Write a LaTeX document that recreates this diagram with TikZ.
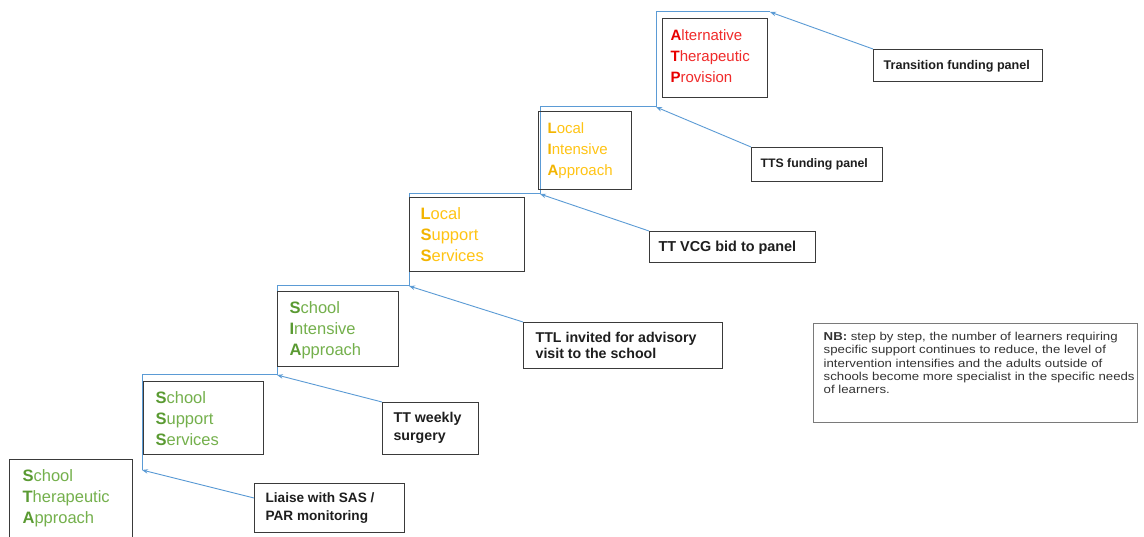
\documentclass[tikz,border=0pt]{standalone}
\usepackage{fontspec}
\setmainfont{Liberation Sans}
\newfontfamily\nbfont{Liberation Sans}[FakeStretch=1.15]
\usetikzlibrary{arrows.meta}
\definecolor{gdark}{HTML}{5A9A32}
\definecolor{glight}{HTML}{74B04C}
\definecolor{ydark}{HTML}{F2B400}
\definecolor{ylight}{HTML}{FFC414}
\definecolor{rdark}{HTML}{E80000}
\definecolor{rlight}{HTML}{F02A2A}
\definecolor{linkblue}{HTML}{5B9BD5}
\definecolor{boxline}{HTML}{3A3A3A}
\definecolor{nbline}{HTML}{7A7A7A}
\definecolor{txt}{HTML}{1E1E1E}
\definecolor{nbtxt}{HTML}{333333}
\newcommand\stx[2]{\makebox[#1][l]{\begin{tabular}[t]{@{}l@{}}#2\end{tabular}}}
\newcommand\gl[2]{\textcolor{gdark}{\bfseries #1}\textcolor{glight}{#2}}
\newcommand\yl[2]{\textcolor{ydark}{\bfseries #1}\textcolor{ylight}{#2}}
\newcommand\rl[2]{\textcolor{rdark}{\bfseries #1}\textcolor{rlight}{#2}}
\begin{document}
\begin{tikzpicture}[x=1pt,y=-1pt,
  stairbox/.style={draw=boxline, line width=1.2pt, anchor=north west, inner ysep=0pt},
  sidebox/.style={draw=boxline, line width=1.2pt, anchor=north west, inner ysep=0pt, text=txt},
  nbbox/.style={draw=nbline, line width=1.4pt, anchor=north west, inner ysep=0pt, text=nbtxt},
  stairline/.style={draw=linkblue, line width=1pt},
  arr/.style={draw=linkblue, line width=0.9pt, -{Stealth[length=6pt,width=4.5pt]}}]
\fill[white] (0,0) rectangle (1144,537);
\useasboundingbox (0,0) rectangle (1144,537);

% staircase line
\coordinate (c0) at (142,470);
\coordinate (c1) at (142,375);
\coordinate (c2) at (277,375);
\coordinate (c3) at (277,286);
\coordinate (c4) at (409,286);
\coordinate (c5) at (409,194);
\coordinate (c6) at (540,194);
\coordinate (c7) at (540,107);
\coordinate (c8) at (656,107);
\coordinate (c9) at (656,12);
\coordinate (c10) at (770,12);
\draw[stairline] (c0) -- (c1) -- (c2) -- (c3) -- (c4) -- (c5) -- (c6) -- (c7) -- (c8) -- (c9) -- (c10);

% stair boxes
\node[stairbox, inner xsep=13pt, text height=22pt, text depth=60pt, font=\fontsize{16.5}{21}\selectfont] (sta) at (9,459)
  {\stx{97pt}{\gl{S}{chool}\\\gl{T}{herapeutic}\\\gl{A}{pproach}}};
\node[stairbox, inner xsep=12pt, text height=22pt, text depth=51pt, font=\fontsize{16.5}{21}\selectfont] (stb) at (143,381)
  {\stx{96pt}{\gl{S}{chool}\\\gl{S}{upport}\\\gl{S}{ervices}}};
\node[stairbox, inner xsep=12pt, text height=22pt, text depth=53pt, font=\fontsize{16.5}{21}\selectfont] (stc) at (277,291)
  {\stx{97pt}{\gl{S}{chool}\\\gl{I}{ntensive}\\\gl{A}{pproach}}};
\node[stairbox, inner xsep=11pt, text height=22pt, text depth=52pt, font=\fontsize{16.5}{21}\selectfont] (std) at (409,197)
  {\stx{93pt}{\yl{L}{ocal}\\\yl{S}{upport}\\\yl{S}{ervices}}};
\node[stairbox, inner xsep=9pt, text height=22.4pt, text depth=55.6pt, font=\fontsize{15}{21}\selectfont] (ste) at (538,111)
  {\stx{75pt}{\yl{L}{ocal}\\\yl{I}{ntensive}\\\yl{A}{pproach}}};
\node[stairbox, inner xsep=8pt, text height=22.4pt, text depth=56.6pt, font=\fontsize{15}{21}\selectfont] (stf) at (662,18)
  {\stx{89pt}{\rl{A}{lternative}\\\rl{T}{herapeutic}\\\rl{P}{rovision}}};

% side boxes
\node[sidebox, inner xsep=10pt, text height=19.5pt, text depth=12.5pt, font=\fontsize{12.6}{16}\selectfont\bfseries] (trans) at (873,49)
  {\stx{149pt}{Transition funding panel}};
\node[sidebox, inner xsep=9pt, text height=20.4pt, text depth=13.6pt, font=\fontsize{12.3}{16}\selectfont\bfseries] (tts) at (751,147)
  {\stx{113pt}{TTS funding panel}};
\node[sidebox, inner xsep=9pt, text height=20.2pt, text depth=10.8pt, font=\fontsize{14.4}{17}\selectfont\bfseries] (vcg) at (649,231)
  {\stx{148pt}{TT VCG bid to panel}};
\node[sidebox, inner xsep=12pt, text height=20.1pt, text depth=25.9pt, font=\fontsize{14.2}{16}\selectfont\bfseries] (ttl) at (523,322)
  {\stx{175pt}{TTL invited for advisory\\visit to the school}};
\node[sidebox, inner xsep=11pt, text height=20.2pt, text depth=31.8pt, font=\fontsize{14.2}{18}\selectfont\bfseries] (weekly) at (382,402)
  {\stx{74pt}{TT weekly\\surgery}};
\node[sidebox, inner xsep=11pt, text height=18.9pt, text depth=30.1pt, font=\fontsize{13.6}{18}\selectfont\bfseries] (liaise) at (254,483)
  {\stx{128pt}{Liaise with SAS /\\PAR monitoring}};

% note
\node[nbbox, inner xsep=10pt, text height=17pt, text depth=82pt, font=\nbfont\fontsize{11.5}{13.3}\selectfont] (nb) at (813,323)
  {\stx{304pt}{\textbf{NB:} step by step, the number of learners requiring\\specific support continues to reduce, the level of\\intervention intensifies and the adults outside of\\schools become more specialist in the specific needs\\of learners.}};

% arrows
\draw[arr] ([yshift=-15pt]liaise.north west) -- (c0);
\draw[arr] (weekly.north west) -- (c2);
\draw[arr] (ttl.north west) -- (c4);
\draw[arr] (vcg.north west) -- (c6);
\draw[arr] (tts.north west) -- (c8);
\draw[arr] (trans.north west) -- (c10);
\end{tikzpicture}
\end{document}
